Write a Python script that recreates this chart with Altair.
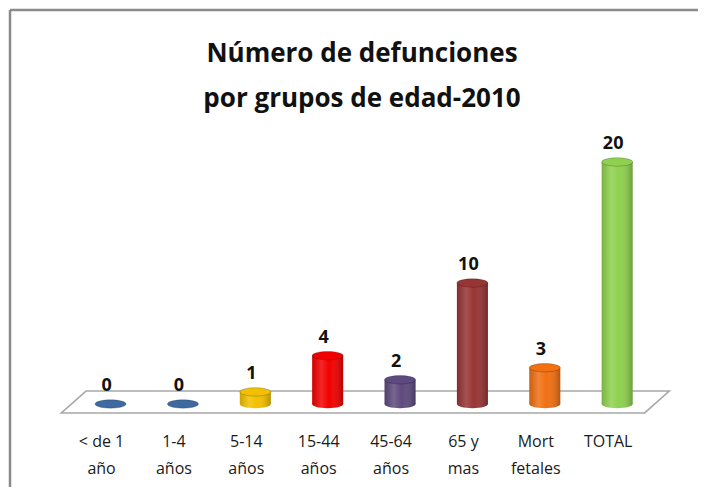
import altair as alt
import pandas as pd

CATEGORIES = ["< de 1\naño", "1-4\naños", "5-14\naños", "15-44\naños",
              "45-64\naños", "65 y\nmas", "Mort\nfetales", "TOTAL"]
VALUES = [0, 0, 1, 4, 2, 10, 3, 20]
COLORS = ["#3D6BA1", "#3D6BA1", "#F2C000", "#F20000",
          "#5E4A7E", "#983434", "#F07012", "#8FD14F"]
TITLE = "Número de defunciones\npor grupos de edad-2010"

df = pd.DataFrame({
    "idx": list(range(len(VALUES))),
    "label": CATEGORIES,
    "value": VALUES,
    "color": COLORS,
})
df_pos = df[df["value"] > 0]

n = len(VALUES)
floor = pd.DataFrame({
    "y": [1.07, -0.74],
    "x": [-0.34, -0.68],
    "x2": [n - 1 + 0.72, n - 1 + 0.38],
})

W, H = 690, 479
xs = alt.Scale(domain=[-1.348, 8.048], nice=False, zero=False)
ys = alt.Scale(domain=[-6.86, 32.73], nice=False, zero=False)
X = alt.X("idx:Q", scale=xs, axis=None)
Y = alt.Y("value:Q", scale=ys, axis=None)
col = alt.Color("color:N", scale=None, legend=None)

BAR_W = 31
ELLIPSE = "M-1,0A1,0.27,0,1,1,1,0A1,0.27,0,1,1,-1,0Z"

shade = alt.Gradient(
    gradient="linear", x1=0, x2=1, y1=0, y2=0,
    stops=[
        alt.GradientStop(offset=0, color="rgba(0,0,0,0.15)"),
        alt.GradientStop(offset=0.3, color="rgba(255,255,255,0.15)"),
        alt.GradientStop(offset=0.55, color="rgba(255,255,255,0)"),
        alt.GradientStop(offset=1, color="rgba(0,0,0,0.25)"),
    ],
)

one = alt.Data(values=[{"a": 1}])
frame_top = alt.Chart(one).mark_rule(color="#8a8a8a", strokeWidth=2.5).encode(
    x=alt.value(2), x2=alt.value(W), y=alt.value(2)
)
frame_left = alt.Chart(one).mark_rule(color="#8a8a8a", strokeWidth=2.5).encode(
    x=alt.value(2), y=alt.value(2), y2=alt.value(H)
)

floor_layer = alt.Chart(floor).mark_area(
    orient="horizontal", fill="white", stroke="#a8a8a8", strokeWidth=1.6
).encode(
    y=alt.Y("y:Q", scale=ys, axis=None),
    x=alt.X("x:Q", scale=xs, axis=None),
    x2="x2:Q",
)

base = alt.Chart(df)
basepos = alt.Chart(df_pos)

bottom = basepos.mark_point(shape=ELLIPSE, size=BAR_W ** 2, filled=True, opacity=1).encode(
    x=X, y=alt.Y("z:Q", scale=ys, axis=None), color=col
).transform_calculate(z="0")
bottom_shade = basepos.mark_point(shape=ELLIPSE, size=BAR_W ** 2, filled=True, opacity=1,
                                  fill=shade).encode(
    x=X, y=alt.Y("z:Q", scale=ys, axis=None)
).transform_calculate(z="0")

body = basepos.mark_bar(size=BAR_W, orient="vertical").encode(
    x=X, y=Y, y2=alt.datum(0), color=col
)
body_shade = basepos.mark_bar(size=BAR_W, orient="vertical", fill=shade).encode(
    x=X, y=Y, y2=alt.datum(0)
)

top = base.mark_point(shape=ELLIPSE, size=BAR_W ** 2, filled=True, opacity=1,
                      stroke="rgba(0,0,0,0.25)", strokeWidth=0.8).encode(
    x=X, y=Y, color=col
)

value_labels = base.mark_text(
    font="Open Sans", fontWeight="bold", fontSize=18, dy=-13, dx=-4,
    baseline="alphabetic", color="#111111"
).encode(x=X, y=Y, text="value:Q")

cat_labels = base.mark_text(
    font="Open Sans", fontSize=16, color="#1a1a1a", lineBreak="\n",
    baseline="alphabetic", lineHeight=27, dx=-9
).encode(x=X, y=alt.value(439), text="label:N")

title = alt.Chart(alt.Data(values=[{"t": TITLE}])).mark_text(
    font="Open Sans", fontWeight="bold", fontSize=26, lineBreak="\n",
    baseline="alphabetic", lineHeight=45, color="#111111"
).encode(x=alt.value(354), y=alt.value(54), text="t:N")

chart = alt.layer(
    frame_top, frame_left, floor_layer, bottom, bottom_shade, body, body_shade, top,
    value_labels, cat_labels, title
).properties(
    width=W, height=H, padding=0,
    autosize=alt.AutoSizeParams(type="none"),
).configure_view(stroke="transparent", strokeWidth=0)

chart.save("out.html", embed_options={"renderer": "svg", "actions": False})
